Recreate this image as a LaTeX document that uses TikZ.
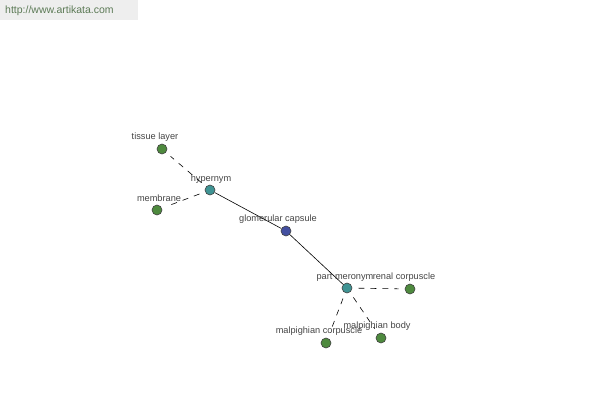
\documentclass[tikz,border=0pt]{standalone}
\usepackage{fontspec}
\setmainfont{Liberation Sans}
\usetikzlibrary{positioning}
\definecolor{leafgreen}{HTML}{4E8A3E}
\definecolor{relteal}{HTML}{3F9494}
\definecolor{rootblue}{HTML}{434FA0}
\definecolor{wmgray}{HTML}{EEEEEE}
\definecolor{wmtext}{HTML}{5C7A56}
\definecolor{lbltext}{HTML}{444444}

\begin{document}
\begin{tikzpicture}[
  x=1pt, y=-1pt,
  dot/.style={circle, draw=black!75, line width=0.6pt, inner sep=0pt, minimum size=10pt},
  leaf/.style={dot, fill=leafgreen},
  rel/.style={dot, fill=relteal},
  root/.style={dot, fill=rootblue},
  lbl/.style={font=\fontsize{9.2}{10}\selectfont, text=lbltext, inner sep=1pt},
  solidlink/.style={black, line width=0.6pt},
  dashlink/.style={black, line width=0.6pt, dash pattern=on 6pt off 6pt, shorten <=6pt, shorten >=6pt}
]
\useasboundingbox (0,0) rectangle (600,400);
% watermark
\fill[wmgray] (0,0) rectangle (138,20);
\node[anchor=west, font=\fontsize{10.5}{12}\selectfont, text=wmtext, inner sep=0pt] (wm) at (5,11) {http://www.artikata.com};

% nodes
\node[root] (glom) at (286,231) {};
\node[rel] (hyper) at (210,190) {};
\node[rel] (part) at (347,288) {};
\node[leaf] (tissue) at (162,149) {};
\node[leaf] (membr) at (157,210) {};
\node[leaf] (renal) at (410,289) {};
\node[leaf] (mcorp) at (326,343) {};
\node[leaf] (mbody) at (381,338) {};

% labels
\node[lbl] (glomlbl) at (278,219) {glomerular capsule};
\node[lbl] (hyperlbl) at (211,179) {hypernym};
\node[lbl] (partlbl) at (345,277) {part meronym};
\node[lbl] (tissuelbl) at (155,137) {tissue layer};
\node[lbl] (membrlbl) at (159,198) {membrane};
\node[lbl] (renallbl) at (404,277) {renal corpuscle};
\node[lbl] (mcorplbl) at (319,331) {malpighian corpuscle};
\node[lbl] (mbodylbl) at (377,326) {malpighian body};

% links
\draw[solidlink] (hyper) -- (glom);
\draw[solidlink] (glom) -- (part);
\draw[dashlink] (hyper) -- (tissue);
\draw[dashlink] (hyper) -- (membr);
\draw[dashlink] (part) -- (renal);
\draw[dashlink] (part) -- (mcorp);
\draw[dashlink] (part) -- (mbody);
\end{tikzpicture}
\end{document}
